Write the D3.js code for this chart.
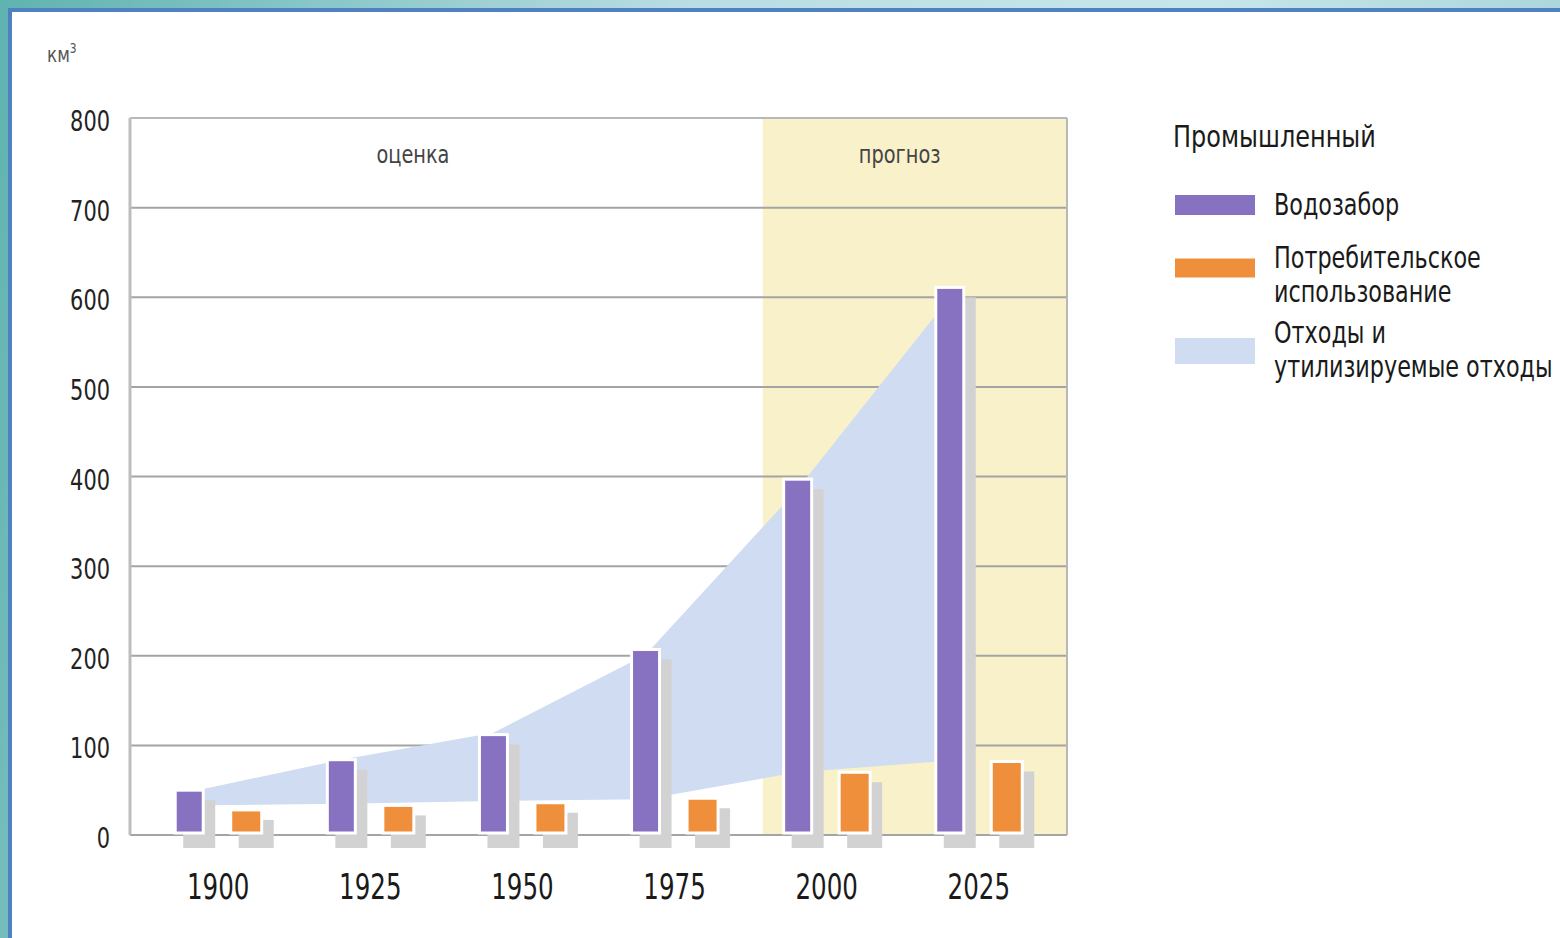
<!DOCTYPE html>
<html>
<head>
<meta charset="utf-8">
<script src="https://cdnjs.cloudflare.com/ajax/libs/d3/7.8.5/d3.min.js"></script>
<style>
  html, body { margin: 0; padding: 0; }
  body {
    width: 1560px; height: 938px; overflow: hidden;
    background: linear-gradient(100deg, #5fb3b0 0%, #b9dde3 40%, #c7e6ea 70%, #9fd0d4 100%);
  }
  text { font-family: "DejaVu Sans Condensed", "Liberation Sans Narrow", "Roboto", sans-serif; }
</style>
</head>
<body>
<div id="chart"></div>
<script>
// data
let years = [1900, 1925, 1950, 1975, 2000, 2025];
let withdrawal = [50, 84, 112, 207, 397, 611];   // Водозабор
let consumption = [28, 33, 36, 41, 70, 82];       // Потребительское использование
let wasteTop = [48, 84, 114, 201, 386, 600];      // Отходы: upper edge
let wasteBottom = [33, 35, 38, 40, 70, 83];       // Отходы: lower edge
let yTicks = [0, 100, 200, 300, 400, 500, 600, 700, 800];
let forecastFrom = 1989.5;
let legendItems = [
  { lines: ["Водозабор"], color: "#8771c1", h: 20 },
  { lines: ["Потребительское", "использование"], color: "#f08f3b", h: 19 },
  { lines: ["Отходы и", "утилизируемые отходы"], color: "#cfdcf2", h: 26 }
];

let W = 1560, H = 938;
let svg = d3.select("#chart").append("svg")
  .attr("width", W).attr("height", H);

/**
 * Squeeze a text horizontally round its anchor, the fonts here are too wide.
 */
function narrow(sel, sx, fx, fy) {
  sel.attr("transform", (d, i) => "translate(" + fx(d, i) + "," + fy(d, i) + ") scale(" + sx + ",1)")
    .attr("x", 0).attr("y", 0);
  return sel;
}

// white panel with blue border
svg.append("rect")
  .attr("x", 10).attr("y", 10)
  .attr("width", W + 20).attr("height", H + 20)
  .attr("fill", "#ffffff")
  .attr("stroke", "#4f80bf")
  .attr("stroke-width", 4);

// scales
let x = d3.scaleLinear().domain([1885.5, 2039.5]).range([130, 1067]);
let y = d3.scaleLinear().domain([0, 800]).range([835, 118]);

// forecast background
svg.append("rect")
  .attr("x", x(forecastFrom)).attr("y", y(800))
  .attr("width", x(2039.5) - x(forecastFrom))
  .attr("height", y(0) - y(800))
  .attr("fill", "#f8f1c9");

// grid lines
svg.append("g").selectAll("line").data(yTicks).join("line")
  .attr("x1", x(1885.5)).attr("x2", x(2039.5))
  .attr("y1", d => y(d)).attr("y2", d => y(d))
  .attr("stroke", d => d == 800 ? "#b8b8b8" : "#a4a4a4")
  .attr("stroke-width", 2);

// frame sides
svg.append("line")
  .attr("x1", x(1885.5)).attr("x2", x(1885.5))
  .attr("y1", y(800)).attr("y2", y(0))
  .attr("stroke", "#bdbdbd").attr("stroke-width", 3);
svg.append("line")
  .attr("x1", x(2039.5)).attr("x2", x(2039.5))
  .attr("y1", y(800)).attr("y2", y(0))
  .attr("stroke", "#b8b8b8").attr("stroke-width", 2);

// y tick labels
narrow(svg.append("g").selectAll("text").data(yTicks).join("text"),
    0.83, () => 110, d => y(d) + 13)
  .text(d => d)
  .style("text-anchor", "end")
  .style("font-size", "28px")
  .style("fill", "#222");

narrow(svg.append("text"), 0.85, () => 47, () => 62)
  .text("км")
  .style("font-size", "22px")
  .style("fill", "#555")
  .append("tspan")
  .attr("dy", -9)
  .style("font-size", "14px")
  .text("3");

// period labels
narrow(svg.append("text"), 0.86, () => x(1932), () => 163)
  .text("оценка")
  .style("text-anchor", "middle")
  .style("font-size", "25px")
  .style("fill", "#444");
narrow(svg.append("text"), 0.86, () => x(2012), () => 163)
  .text("прогноз")
  .style("text-anchor", "middle")
  .style("font-size", "25px")
  .style("fill", "#444");

// waste area, spanning withdrawal bar centres
let purpleOff = -29, orangeOff = 28;
let areaData = years.map((yr, i) => ({ yr: yr, top: wasteTop[i], bot: wasteBottom[i] }));
svg.append("path")
  .datum(areaData)
  .attr("d", d3.area()
    .x(d => x(d.yr) + purpleOff)
    .y0(d => y(d.bot))
    .y1(d => y(d.top)))
  .attr("fill", "#cfdcf2");

// bars with shadows
let bars = [];
years.forEach((yr, i) => {
  bars.push({ cx: x(yr) + purpleOff, w: 28, v: withdrawal[i], color: "#8771c1" });
  bars.push({ cx: x(yr) + orangeOff, w: 31, v: consumption[i], color: "#f08f3b" });
});

svg.append("g").selectAll("rect").data(bars).join("rect")
  .attr("x", d => d.cx - d.w / 2 + 8)
  .attr("y", d => y(d.v) + 10)
  .attr("width", d => d.w + 4)
  .attr("height", d => 848 - y(d.v) - 10)
  .attr("fill", "#d2d2d2");

svg.append("g").selectAll("rect").data(bars).join("rect")
  .attr("x", d => d.cx - d.w / 2)
  .attr("y", d => y(d.v))
  .attr("width", d => d.w)
  .attr("height", d => y(0) - 2 - y(d.v))
  .attr("fill", d => d.color)
  .attr("stroke", "#ffffff")
  .attr("stroke-width", 3);

// x labels
narrow(svg.append("g").selectAll("text").data(years).join("text"),
    0.78, d => x(d), () => 899)
  .text(d => d)
  .style("text-anchor", "middle")
  .style("font-size", "35px")
  .style("fill", "#1a1a1a");

// legend
let legend = svg.append("g");
narrow(legend.append("text"), 0.86, () => 1173, () => 147)
  .text("Промышленный")
  .style("font-size", "31px")
  .style("fill", "#1a1a1a");

let swatchY = [205, 268, 351];
let textY = [215, 268, 343];
legendItems.forEach((it, i) => {
  legend.append("rect")
    .attr("x", 1175).attr("y", swatchY[i] - it.h / 2)
    .attr("width", 80).attr("height", it.h)
    .attr("fill", it.color);
  narrow(legend.append("g").selectAll("text").data(it.lines).join("text"),
      0.8, () => 1274, (d, j) => textY[i] + j * 34)
    .text(d => d)
    .style("font-size", "31px")
    .style("fill", "#1a1a1a");
});
</script>
</body>
</html>
